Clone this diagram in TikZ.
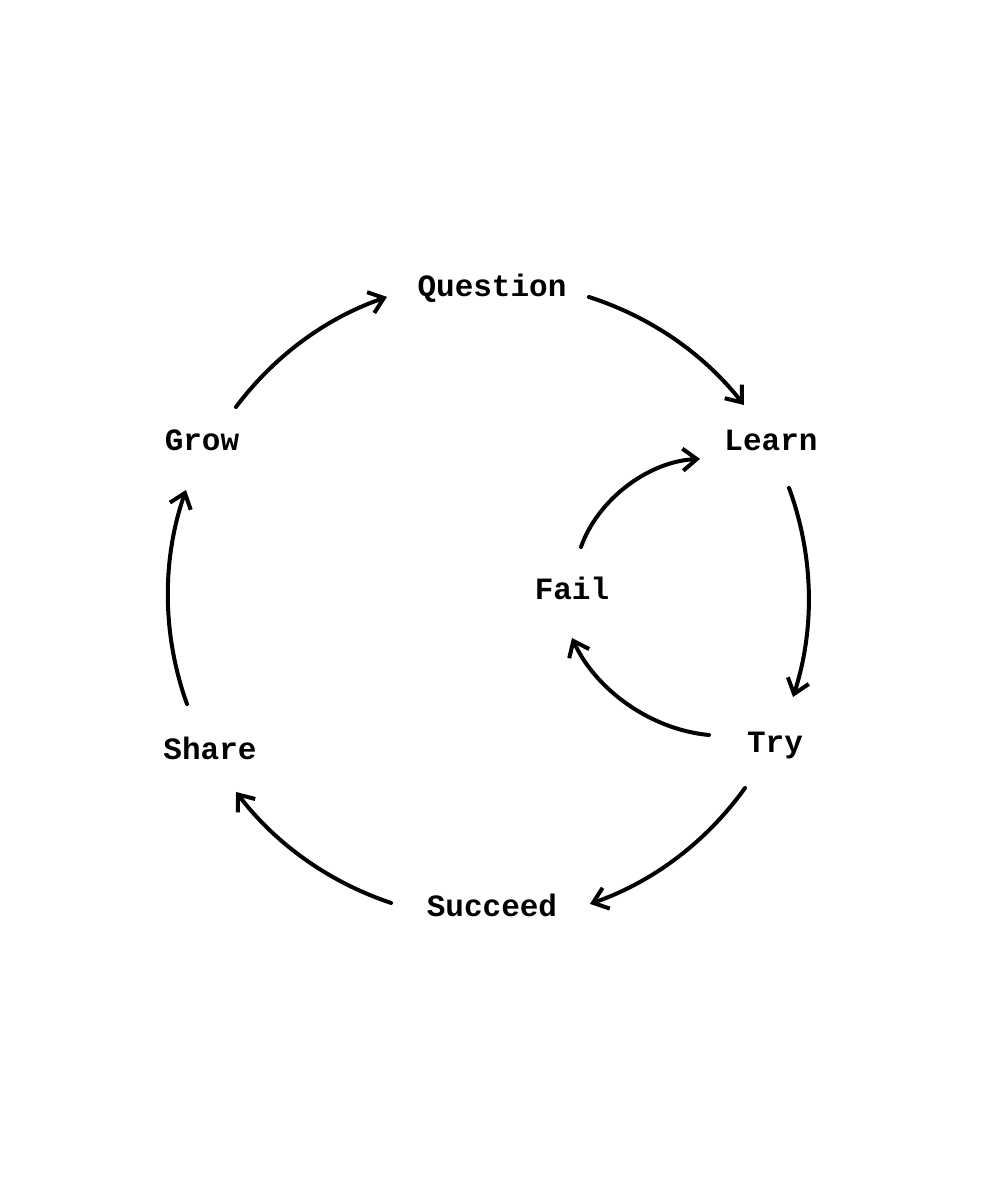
\documentclass[tikz,border=0pt]{standalone}
\usepackage{fontspec}
\setmonofont{Liberation Mono}
\usetikzlibrary{arrows.meta}
\tikzset{
  word/.style={font=\ttfamily\bfseries\fontsize{15.5pt}{18pt}\selectfont,
    inner sep=0pt, text height=10pt, text depth=0pt},
  cyc/.style={line width=2pt, line cap=round,
    -{Straight Barb[length=7pt,width=11pt]}, looseness=0.88}
}
\begin{document}
\begin{tikzpicture}[x=0.5pt,y=0.5pt]
  \useasboundingbox (0,0) rectangle (982,1200);
  \node[word] (QU) at (492,913) {Question};
  \node[word] (LE) at (771,759) {Learn};
  \node[word] (TR) at (775,457) {Try};
  \node[word] (SU) at (492,293) {Succeed};
  \node[word] (SH) at (210,450) {Share};
  \node[word] (GR) at (202,759) {Grow};
  \node[word] (FA) at (572,610) {Fail};
  % outer cycle
  \path[cyc] ([shift={(45:48)}]GR.center) edge[bend left=17] ([shift={(185.4:105.5)}]QU.center)
    ([shift={(354.1:97.5)}]QU.center) edge[bend left=17] ([shift={(126.9:45)}]LE.center)
    ([shift={(291:50.3)}]LE.center) edge[bend left=19] ([shift={(68.6:49.4)}]TR.center)
    ([shift={(236.3:54.1)}]TR.center) edge[bend left=17.5] ([shift={(1.8:98)}]SU.center)
    ([shift={(177.7:101)}]SU.center) edge[bend left=17] ([shift={(301.8:49.4)}]SH.center)
    ([shift={(116.6:51.4)}]SH.center) edge[bend left=19.5] ([shift={(251.9:51.5)}]GR.center);
  % inner loop
  \path[cyc] ([shift={(173.1:66.5)}]TR.center) edge[bend left=30] ([shift={(270:48)}]FA.center)
    ([shift={(78.2:44)}]FA.center) edge[bend left=34] ([shift={(194.2:73.2)}]LE.center);
\end{tikzpicture}
\end{document}
